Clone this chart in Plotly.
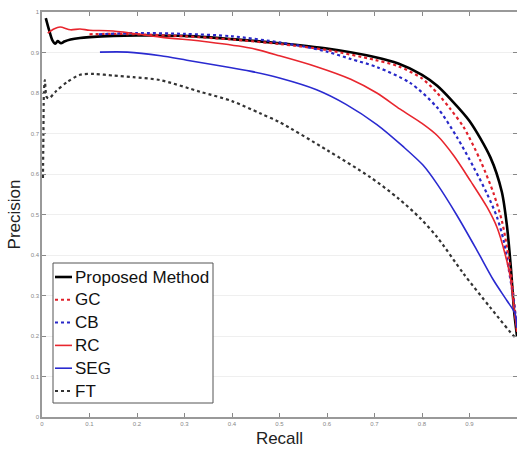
import plotly.graph_objects as go

# Proposed Method
prop_x = [0.008, 0.015, 0.022, 0.028, 0.033, 0.04, 0.047, 0.06, 0.08, 0.1, 0.15, 0.2, 0.3, 0.4, 0.5, 0.6, 0.7, 0.75, 0.8, 0.832, 0.86, 0.9, 0.944, 0.968, 0.979, 0.987, 0.994, 1.0]
prop_y = [0.985, 0.955, 0.93, 0.922, 0.928, 0.923, 0.927, 0.932, 0.936, 0.938, 0.941, 0.942, 0.941, 0.933, 0.923, 0.91, 0.889, 0.873, 0.845, 0.818, 0.785, 0.731, 0.641, 0.556, 0.47, 0.37, 0.26, 0.2]

# GC
gc_x = [0.1, 0.15, 0.2, 0.3, 0.4, 0.5, 0.6, 0.7, 0.75, 0.8, 0.832, 0.86, 0.888, 0.923, 0.951, 0.968, 0.979, 0.989, 0.996, 1.0]
gc_y = [0.945, 0.946, 0.945, 0.94, 0.932, 0.921, 0.906, 0.882, 0.866, 0.836, 0.8, 0.76, 0.715, 0.633, 0.551, 0.485, 0.419, 0.337, 0.26, 0.21]

# CB
cb_x = [0.12, 0.2, 0.3, 0.4, 0.5, 0.55, 0.6, 0.65, 0.705, 0.775, 0.832, 0.874, 0.909, 0.937, 0.958, 0.972, 0.982, 0.993, 1.0]
cb_y = [0.945, 0.948, 0.946, 0.94, 0.925, 0.915, 0.902, 0.884, 0.864, 0.825, 0.764, 0.69, 0.616, 0.551, 0.493, 0.435, 0.369, 0.287, 0.22]

# RC
rc_x = [0.012, 0.025, 0.038, 0.06, 0.08, 0.1, 0.15, 0.25, 0.35, 0.438, 0.5, 0.578, 0.65, 0.705, 0.754, 0.8, 0.832, 0.867, 0.902, 0.937, 0.958, 0.975, 0.986, 0.994, 1.0]
rc_y = [0.948, 0.958, 0.963, 0.956, 0.958, 0.955, 0.953, 0.938, 0.926, 0.911, 0.892, 0.865, 0.834, 0.80, 0.76, 0.725, 0.695, 0.645, 0.583, 0.518, 0.468, 0.402, 0.345, 0.265, 0.21]

# SEG
seg_x = [0.122, 0.18, 0.25, 0.305, 0.38, 0.438, 0.5, 0.578, 0.64, 0.705, 0.76, 0.802, 0.832, 0.874, 0.916, 0.951, 0.979, 0.996, 1.0]
seg_y = [0.901, 0.901, 0.892, 0.881, 0.866, 0.854, 0.837, 0.808, 0.772, 0.722, 0.668, 0.622, 0.575, 0.497, 0.411, 0.337, 0.287, 0.255, 0.22]

# FT
ft_x = [0.002, 0.003, 0.004, 0.006, 0.01, 0.015, 0.03, 0.053, 0.08, 0.11, 0.15, 0.192, 0.248, 0.333, 0.4, 0.459, 0.5, 0.6, 0.69, 0.75, 0.796, 0.832, 0.888, 0.944, 0.996, 1.0]
ft_y = [0.59, 0.7, 0.8, 0.832, 0.79, 0.787, 0.805, 0.827, 0.845, 0.847, 0.843, 0.839, 0.832, 0.803, 0.78, 0.75, 0.728, 0.659, 0.593, 0.54, 0.491, 0.444, 0.353, 0.27, 0.197, 0.195]

tick_vals = [0, 0.1, 0.2, 0.3, 0.4, 0.5, 0.6, 0.7, 0.8, 0.9, 1]
tick_text = ["0", "0.1", "0.2", "0.3", "0.4", "0.5", "0.6", "0.7", "0.8", "0.9", "1"]

series = [
    ("Proposed Method", prop_x, prop_y, "#000000", "solid", 2.6),
    ("GC", gc_x, gc_y, "#e0202a", "dot", 2.2),
    ("CB", cb_x, cb_y, "#2828c8", "dot", 2.2),
    ("RC", rc_x, rc_y, "#e8262e", "solid", 1.6),
    ("SEG", seg_x, seg_y, "#2a2ad0", "solid", 1.6),
    ("FT", ft_x, ft_y, "#333333", "dot", 2.2),
]

fig = go.Figure()
for name, xs, ys, col, dash, w in series:
    fig.add_trace(go.Scatter(x=xs, y=ys, mode="lines", name=name, showlegend=False,
                             line=dict(color=col, dash=dash, width=w, shape="spline", smoothing=0.8)))

# Legend box (paper coordinates) drawn to match the reference layout
plot_l, plot_t, plot_w, plot_h = 42, 12, 475, 405
def px_x(p):
    return (p - plot_l) / plot_w
def px_y(p):
    return (plot_t + plot_h - p) / plot_h

fig.add_shape(type="rect", xref="paper", yref="paper",
              x0=px_x(53), x1=px_x(213), y0=px_y(403), y1=px_y(263),
              line=dict(color="#555", width=1), fillcolor="white", layer="above")
for i, (name, xs, ys, col, dash, w) in enumerate(series):
    cy = px_y(277 + 22.8 * i)
    fig.add_shape(type="line", xref="paper", yref="paper",
                  x0=px_x(55), x1=px_x(72), y0=cy, y1=cy,
                  line=dict(color=col, dash=dash, width=2 if dash == "dot" else w), layer="above")
    fig.add_annotation(xref="paper", yref="paper", x=px_x(73), y=cy,
                       xanchor="left", yanchor="middle", showarrow=False, text=name,
                       font=dict(family="Liberation Sans, Arial", size=17, color="#111"))

axis_common = dict(range=[0, 1], tickvals=tick_vals, ticktext=tick_text,
                   ticks="inside", ticklen=4, tickcolor="#888", showline=True,
                   linecolor="#999", linewidth=1.5, mirror="ticks",
                   tickfont=dict(family="Liberation Sans, Arial", size=6, color="#888"),
                   zeroline=False)

fig.update_xaxes(**axis_common, showgrid=False,
                 title=dict(text="Recall", font=dict(family="Liberation Sans, Arial", size=17, color="#222"), standoff=6))
fig.update_yaxes(**axis_common, showgrid=True, gridcolor="#efefef", gridwidth=1,
                 title=dict(text="Precision", font=dict(family="Liberation Sans, Arial", size=17, color="#222"), standoff=6))

fig.update_layout(
    width=517, height=451,
    margin=dict(l=42, r=0, t=12, b=34, autoexpand=False),
    plot_bgcolor="white", paper_bgcolor="white",
    showlegend=False,
)

fig.write_html("out.html", config={"displayModeBar": False},
               post_script="document.body.style.margin='0';document.body.style.overflow='hidden';")
